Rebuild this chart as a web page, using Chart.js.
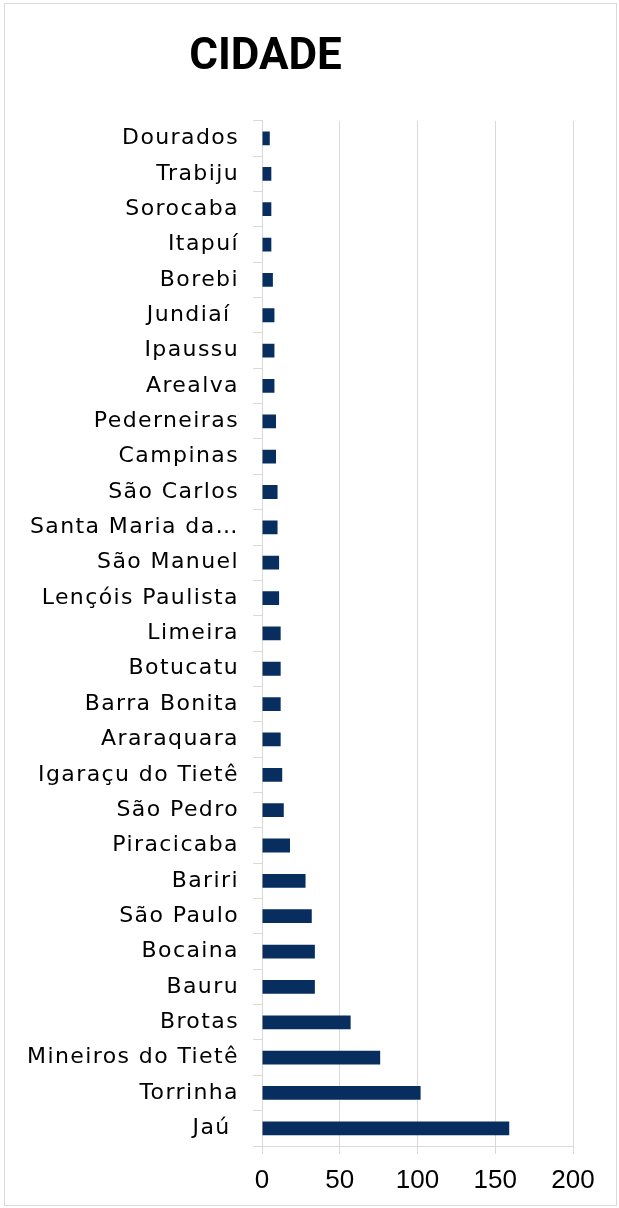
<!DOCTYPE html>
<html>
<head>
<meta charset="utf-8">
<script src="https://cdn.jsdelivr.net/npm/chart.js@4.4.1/dist/chart.umd.min.js"></script>
<style>
  html, body { margin: 0; padding: 0; background: #ffffff; }
  #wrap { position: relative; width: 619px; height: 1208px; }
</style>
</head>
<body>
<div id="wrap"><canvas id="chart" width="619" height="1208"></canvas></div>
<script>
// Cities, top to bottom as they appear on the axis
const cities = [
  "Dourados", "Trabiju", "Sorocaba", "Itapuí", "Borebi", "Jundiaí ", "Ipaussu",
  "Arealva", "Pederneiras", "Campinas", "São Carlos", "Santa Maria da Serra",
  "São Manuel", "Lençóis Paulista", "Limeira", "Botucatu", "Barra Bonita",
  "Araraquara", "Igaraçu do Tietê", "São Pedro", "Piracicaba", "Bariri",
  "São Paulo", "Bocaina", "Bauru", "Brotas", "Mineiros do Tietê", "Torrinha", "Jaú "
];

// Count per city
const counts = [
  5, 6, 6, 6, 7, 8, 8,
  8, 9, 9, 10, 10,
  11, 11, 12, 12, 12,
  12, 13, 14, 18, 28,
  32, 34, 34, 57, 76, 102, 159
];

// Value axis
const axisMin = 0;
const axisMax = 200;
const axisStep = 50;

const chartTitle = "CIDADE";

const barColor = "#072e5e";
const gridColor = "#d9d9d9";
const textColor = "#000000";

// Names longer than this are shortened on the axis
const maxLabelChars = 18;
const shortLabelChars = 14;

// Outer frame of the chart
const framePlugin = {
  id: "frame",
  beforeDraw(chart) {
    const ctx = chart.ctx;
    ctx.letterSpacing = "0px";
    ctx.save();
    ctx.strokeStyle = gridColor;
    ctx.lineWidth = 1;
    ctx.strokeRect(4.5, 3.5, chart.width - 7, chart.height - 6);
    ctx.restore();
  },
  afterDatasetsDraw(chart) {
    // category labels are drawn after the bars with wider tracking
    chart.ctx.letterSpacing = "1.4px";
  },
  afterDraw(chart) {
    chart.ctx.letterSpacing = "0px";
  }
};

// Place the heading over the left part of the canvas
const headingPlugin = {
  id: "headingPlacement",
  afterLayout(chart) {
    const t = chart.titleBlock;
    if (t) {
      t.left = 0;
      t.right = 531;
      t.width = 531;
    }
  }
};

new Chart(document.getElementById("chart"), {
  type: "bar",
  data: {
    labels: cities,
    datasets: [{
      data: counts,
      backgroundColor: barColor,
      borderWidth: 0,
      barPercentage: 0.39,
      categoryPercentage: 1.0
    }]
  },
  options: {
    indexAxis: "y",
    responsive: false,
    animation: false,
    devicePixelRatio: 1,
    layout: { padding: { left: 0, right: 46, top: 0, bottom: 0 } },
    plugins: {
      legend: { display: false },
      tooltip: { enabled: false },
      title: {
        display: true,
        text: chartTitle,
        color: textColor,
        font: { family: "Roboto", weight: "bold", size: 44, lineHeight: 1.2 },
        padding: { top: 32, bottom: 36 }
      }
    },
    scales: {
      x: {
        min: axisMin,
        max: axisMax,
        ticks: {
          stepSize: axisStep,
          color: textColor,
          padding: 11,
          font: { family: "Liberation Sans", size: 26 }
        },
        grid: {
          color: gridColor,
          lineWidth: 1,
          tickLength: 8,
          tickColor: gridColor
        },
        border: { display: true, color: gridColor, width: 1 },
        afterFit(scale) { scale.height = 62; }
      },
      y: {
        offset: true,
        ticks: {
          z: 1,
          color: textColor,
          padding: 14,
          autoSkip: false,
          font: { family: "DejaVu Sans", size: 22 },
          callback(value) {
            const name = this.getLabelForValue(value);
            return name.length > maxLabelChars
              ? name.slice(0, shortLabelChars) + "\u2026"
              : name;
          }
        },
        grid: {
          offset: true,
          drawOnChartArea: false,
          tickLength: 9,
          color: gridColor,
          tickColor: gridColor
        },
        border: { display: true, color: gridColor, width: 1 },
        afterFit(scale) { scale.width = 262; }
      }
    }
  },
  plugins: [framePlugin, headingPlugin]
});
</script>
</body>
</html>
